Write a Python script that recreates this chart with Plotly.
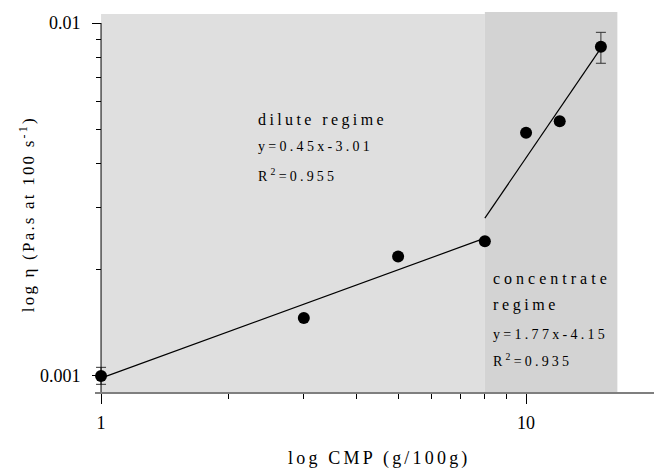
import math
import json
import plotly.graph_objects as go

# ---- data ----
cmp_conc = [1, 3, 5, 8, 10, 12, 15]
viscosity = [0.001, 0.00146, 0.00218, 0.00241, 0.00489, 0.00527, 0.00857]
err_plus = [0.000058, 0, 0, 0, 0, 0, 0.00084]
err_minus = [0.000053, 0, 0, 0, 0, 0, 0.00088]

dilute_fit_x = [1, 8]
dilute_fit_y = [0.000986, 0.002457]
conc_fit_x = [8, 15]
conc_fit_y = [0.0028, 0.00849]

dilute_region = [1, 8]
conc_region = [8, 16.4]

x_ticks = [1, 10]
x_ticklabels = ["1", "10"]
x_minor = [2, 3, 4, 5, 6, 7, 8, 9, 20]
y_ticks = [0.001, 0.01]
y_ticklabels = ["0.001", "0.01"]
y_minor = [0.002, 0.003, 0.004, 0.005, 0.006, 0.007, 0.008, 0.009]

# ---- layout geometry ----
W, H = 654, 468
ML, MR, MT, MB = 95, 0, 12, 76
PW, PH = W - ML - MR, H - MT - MB
x_range = [-0.0142, math.log10(20)]
y_range = [-3.0454, -1.9688]
y_axis_pos = (0 - x_range[0]) / (x_range[1] - x_range[0])

def xp(px):
    return (px - ML) / PW

def yp(py):
    return (H - MB - py) / PH

FONT = "Liberation Serif, Times New Roman, serif"

fig = go.Figure()

# shaded regimes
fig.add_shape(type="rect", xref="x", yref="y", x0=dilute_region[0], x1=dilute_region[1],
              y0=10 ** y_range[0], y1=0.0106, fillcolor="#dfdfdf", line_width=0, layer="below")
fig.add_shape(type="rect", xref="x", yref="y", x0=conc_region[0], x1=conc_region[1],
              y0=10 ** y_range[0], y1=10 ** y_range[1], fillcolor="#d3d3d3", line_width=0, layer="below")
# y axis line (from bottom to 0.01)
fig.add_shape(type="line", xref="x", yref="y", x0=1, x1=1, y0=10 ** y_range[0], y1=0.01,
              line=dict(color="black", width=1))

# fit lines
fig.add_trace(go.Scatter(x=dilute_fit_x, y=dilute_fit_y, mode="lines",
                         line=dict(color="black", width=1.2), showlegend=False))
fig.add_trace(go.Scatter(x=conc_fit_x, y=conc_fit_y, mode="lines",
                         line=dict(color="black", width=1.2), showlegend=False))

# data points
fig.add_trace(go.Scatter(
    x=cmp_conc, y=viscosity, mode="markers",
    marker=dict(color="black", size=12),
    error_y=dict(type="data", array=err_plus, arrayminus=err_minus, symmetric=False,
                 color="#333333", thickness=1, width=5),
    showlegend=False))

# (text, x px, y px, font size, letter spacing px, anchor, angle)
texts = [
    ("dilute regime", 256, 120, 16, 3.4, "left", 0),
    ("y=0.45x-3.01", 256, 146, 14, 3.3, "left", 0),
    ("R<sup>2</sup>=0.955", 256, 175, 14, 3.2, "left", 0),
    ("concentrate", 491, 278, 16, 4.0, "left", 0),
    ("regime", 491, 305, 16, 3.6, "left", 0),
    ("y=1.77x-4.15", 491, 334, 14, 3.3, "left", 0),
    ("R<sup>2</sup>=0.935", 491, 360, 14, 3.2, "left", 0),
    ("log η (Pa.s at 100 s<sup>-1</sup>)", 27, 216, 17, 2.2, "center", -90),
    ("log CMP (g/100g)", 377, 458, 18, 3.2, "center", 0),
]
spacings = []
anchors = []
for t, px, py, fs, ls, anc, ang in texts:
    fig.add_annotation(text=t, xref="paper", yref="paper", x=xp(px), y=yp(py),
                       xanchor=anc, yanchor="middle", showarrow=False, textangle=ang,
                       font=dict(family=FONT, size=fs, color="black"))
    spacings.append(ls)
    anchors.append(anc)

fig.update_xaxes(type="log", range=x_range, showgrid=False, zeroline=False,
                 showline=True, linecolor="#7f7f7f", linewidth=2,
                 tickvals=x_ticks, ticktext=x_ticklabels,
                 ticks="outside", ticklen=10, tickcolor="black", tickwidth=1,
                 ticklabelstandoff=3,
                 tickfont=dict(family=FONT, size=18, color="black"),
                 minor=dict(tickvals=x_minor, ticks="outside", ticklen=5,
                            tickcolor="black", tickwidth=1, showgrid=False))
fig.update_yaxes(type="log", range=y_range, showgrid=False, zeroline=False,
                 showline=False, anchor="free", position=y_axis_pos,
                 tickvals=y_ticks, ticktext=y_ticklabels,
                 ticks="outside", ticklen=9, tickcolor="black", tickwidth=1,
                 ticklabelstandoff=8,
                 tickfont=dict(family=FONT, size=18, color="black"),
                 minor=dict(tickvals=y_minor, ticks="outside", ticklen=5,
                            tickcolor="black", tickwidth=1, showgrid=False))

fig.update_layout(width=W, height=H, margin=dict(l=ML, r=MR, t=MT, b=MB, autoexpand=False),
                  paper_bgcolor="white", plot_bgcolor="white", showlegend=False)

# widen character spacing of the annotation texts (as in the reference), keeping
# left-anchored texts fixed at their left edge and centred texts at their centre
post_js = (
    "document.body.style.margin='0';"
    "var sp=" + json.dumps(spacings) + ";"
    "var an=" + json.dumps(anchors) + ";"
    "document.querySelectorAll('g.annotation').forEach(function(g){"
    "var i=parseInt(g.getAttribute('data-index'));"
    "var t=g.querySelector('text.annotation-text');"
    "if(!t||isNaN(i)||sp[i]===undefined){return;}"
    "var b0=t.getBBox();"
    "t.style.letterSpacing=sp[i]+'px';"
    "var b1=t.getBBox();"
    "var dx=(an[i]==='left')?(b0.x-b1.x):((b0.x+b0.width/2)-(b1.x+(b1.width-sp[i])/2));"
    "var tr=t.getAttribute('transform')||'';"
    "t.setAttribute('transform','translate('+dx+',0) '+tr);"
    "});"
)

fig.write_html("out.html", post_script=post_js, config={"displayModeBar": False})
